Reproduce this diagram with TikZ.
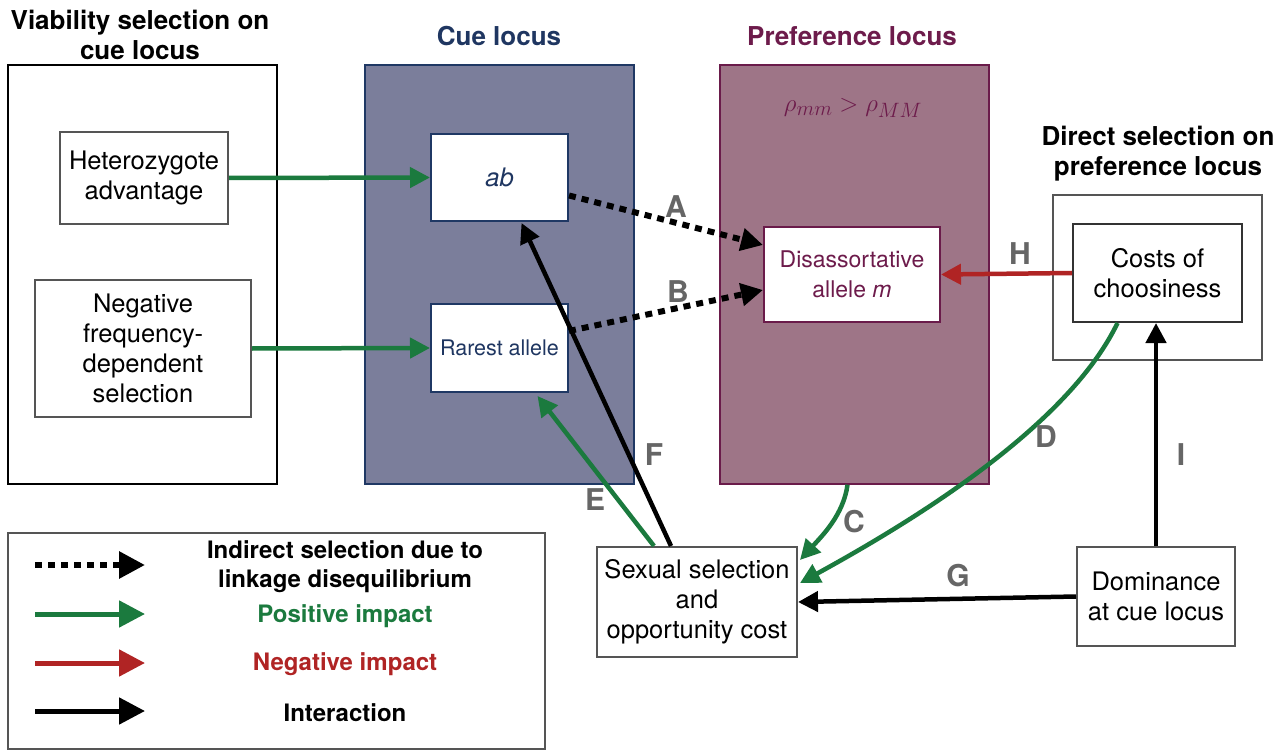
\documentclass[tikz,border=0pt]{standalone}
\usepackage[no-math]{fontspec}
\setmainfont{TeX Gyre Heros}
\usetikzlibrary{arrows.meta,calc}
\definecolor{cuefill}{HTML}{7B7E9B}
\definecolor{cuedraw}{HTML}{1F3864}
\definecolor{navy}{HTML}{1F3661}
\definecolor{preffill}{HTML}{9E7587}
\definecolor{prefdraw}{HTML}{6A1B4A}
\definecolor{maroon}{HTML}{6D1B4B}
\definecolor{posgreen}{HTML}{1B7A3E}
\definecolor{negred}{HTML}{B02424}
\definecolor{lblgray}{HTML}{666666}
\definecolor{boxgray}{HTML}{555555}
\tikzset{
  gbox/.style={draw=boxgray, line width=2pt, fill=white, inner sep=0pt, align=center},
  nbox/.style={draw=cuedraw, line width=2pt, fill=white, inner sep=0pt, align=center, text=navy},
  txt/.style={font=\fontsize{25.5}{30}\selectfont},
  ttl/.style={font=\fontsize{26}{30}\selectfont\bfseries, align=center},
  lbl/.style={font=\fontsize{30}{30}\selectfont\bfseries, text=lblgray},
  garrow/.style={draw=posgreen, line width=4.5pt, -{Triangle[length=20pt,width=20pt]}},
  rarrow/.style={draw=negred, line width=4.5pt, -{Triangle[length=20pt,width=20pt]}},
  karrow/.style={draw=black, line width=4.5pt, -{Triangle[length=20pt,width=20pt]}},
  darrow/.style={draw=black, line width=6pt, dash pattern=on 7pt off 6pt, -{Triangle[length=22pt,width=22pt]}},
  legarrow/.style={line width=5pt, -{Triangle[length=26pt,width=26pt]}},
}
\begin{document}
\begin{tikzpicture}[x=1pt,y=-1pt]
\useasboundingbox (0,0) rectangle (1287,751);
\fill[white] (0,0) rectangle (1287,751);

% big containers
\node[draw=black, line width=2pt, minimum width=269pt, minimum height=419pt, inner sep=0pt] (viab) at (142.5,274.5) {};
\node[draw=cuedraw, fill=cuefill, line width=1.5pt, minimum width=269pt, minimum height=419pt, inner sep=0pt] (cue) at (499.5,274.5) {};
\node[draw=prefdraw, fill=preffill, line width=1.5pt, minimum width=269pt, minimum height=419pt, inner sep=0pt] (pref) at (854.5,274.5) {};

% titles
\node[ttl] (tviab) at (140,35) {Viability selection on\\cue locus};
\node[ttl, text=navy] (tcue) at (499,36) {Cue locus};
\node[ttl, text=maroon] (tpref) at (852,36) {Preference locus};
\node[ttl] (tdsel) at (1158,154) {Direct selection on\\preference locus};

% inner boxes
\node[gbox, txt, minimum width=168pt, minimum height=92pt] (het) at (144,178) {Heterozygote\\advantage};
\node[gbox, txt, minimum width=216pt, minimum height=137pt] (nfd) at (143,348.5) {Negative\\frequency-\\dependent\\selection};
\node[nbox, font=\fontsize{25.5}{30}\selectfont\itshape, minimum width=137pt, minimum height=87pt] (ab) at (499.5,177.5) {ab};
\node[nbox, font=\fontsize{21.5}{26}\selectfont, minimum width=137pt, minimum height=88pt] (rare) at (499.5,348) {Rarest allele};
\node[draw=prefdraw, line width=2pt, fill=white, inner sep=0pt, align=center, text=maroon, font=\fontsize{23}{30}\selectfont, minimum width=176pt, minimum height=95pt] (dis) at (852,274.5) {Disassortative\\allele \textit{m}};
\node[text=maroon, font=\fontsize{27.5}{30}\selectfont] (rho) at (853,108) {$\rho_{mm} > \rho_{MM}$};

\node[gbox, minimum width=209pt, minimum height=165pt] (dsel) at (1157.5,277.5) {};
\node[gbox, draw=black!80, txt, minimum width=169pt, minimum height=98pt] (cost) at (1157.5,273) {Costs of\\choosiness};
\node[gbox, txt, minimum width=200pt, minimum height=110pt] (sex) at (697,602) {Sexual selection\\and\\opportunity cost};
\node[gbox, txt, minimum width=158pt, minimum height=99pt] (dom) at (1156,596.5) {Dominance\\at cue locus};

% connectors
\draw[garrow] (het.east) -- (ab.west);
\draw[garrow] (nfd.east) -- (rare.west);
\draw[darrow] ($(ab.east)+(0,18)$) -- ($(dis.west)+(0,-29.5)$);
\draw[darrow] ($(rare.east)+(0,-17)$) -- ($(dis.west)+(0,15.5)$);
\draw[rarrow] (cost.west) -- (dis.east);
\draw[garrow] ($(pref.south)+(-7,0)$) .. controls +(-4,30) and +(22,-24) .. ($(sex.north east)+(2,14)$);
\draw[garrow] ($(cost.south)+(-40,0)$) .. controls +(-52,108) and +(100,-55) .. ($(sex.east)+(2,-19)$);
\draw[garrow] ($(sex.north)+(-43,0)$) -- ($(rare.south)+(38,3)$);
\draw[karrow] ($(sex.north)+(-26,0)$) -- ($(ab.south)+(22,1)$);
\draw[karrow] (dom.west) -- (sex.east);
\draw[karrow] (dom.north) -- (dom.north |- cost.south);

% labels
\node[lbl] (lA) at (676,207) {A};
\node[lbl] (lB) at (678,292) {B};
\node[lbl] (lC) at (854,522) {C};
\node[lbl] (lD) at (1046,437) {D};
\node[lbl] (lE) at (595,500) {E};
\node[lbl] (lF) at (654,455) {F};
\node[lbl] (lG) at (958,576) {G};
\node[lbl] (lH) at (1020,254) {H};
\node[lbl] (lI) at (1181,455) {I};

% legend
\node[draw=boxgray, line width=2.5pt, minimum width=537pt, minimum height=216pt, inner sep=0pt] (leg) at (276.5,641) {};
\coordinate (l1s) at (35,565); \coordinate (l1e) at (145,565);
\coordinate (l2s) at (35,614); \coordinate (l2e) at (145,614);
\coordinate (l3s) at (35,663); \coordinate (l3e) at (145,663);
\coordinate (l4s) at (35,711); \coordinate (l4e) at (145,711);
\draw[legarrow, draw=black, line width=6pt, dash pattern=on 7pt off 6pt] (l1s) -- (l1e);
\draw[legarrow, draw=posgreen] (l2s) -- (l2e);
\draw[legarrow, draw=negred] (l3s) -- (l3e);
\draw[legarrow, draw=black] (l4s) -- (l4e);
\node[font=\fontsize{24}{29}\selectfont\bfseries, align=center] (t1) at (345,566.5) {Indirect selection due to\\linkage disequilibrium};
\node[font=\fontsize{24}{29}\selectfont\bfseries, text=posgreen] (t2) at (345,616) {Positive impact};
\node[font=\fontsize{24}{29}\selectfont\bfseries, text=negred] (t3) at (345,664) {Negative impact};
\node[font=\fontsize{24}{29}\selectfont\bfseries] (t4) at (345,713) {Interaction};
\end{tikzpicture}
\end{document}
